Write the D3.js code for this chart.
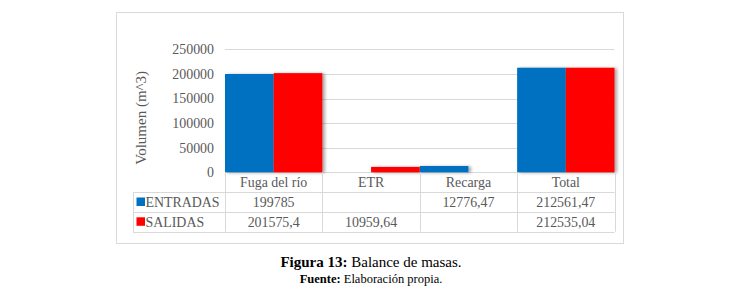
<!DOCTYPE html>
<html>
<head>
<meta charset="utf-8">
<script src="https://cdn.jsdelivr.net/npm/d3@7"></script>
<style>
	body { margin: 0; background: #fff; }
</style>
</head>
<body>
<div class="balance-chart"></div>
<script>
let categories = ['Fuga del río', 'ETR', 'Recarga', 'Total'];
let seriesNames = ['ENTRADAS', 'SALIDAS'];
let entradas = [199785, null, 12776.47, 212561.47];
let salidas = [201575.4, 10959.64, null, 212535.04];
let yTicks = [0, 50000, 100000, 150000, 200000, 250000];

let colors = ['#0070C0', '#FF0000'];
let width = 740;
let height = 295;
let plot = { left: 225, right: 614.5, top: 49.3, bottom: 172.3 };
let rowH = 19.8;
let tableLeft = 133;
let gridColor = '#d9d9d9';
let textColor = '#595959';
let serif = "'Liberation Serif', 'Times New Roman', serif";
let fontSize = '13.9px';

let seriesData = [entradas, salidas];

let svg = d3.select('.balance-chart').append('svg')
	.attr('width', width)
	.attr('height', height);

// sombra de las barras
let defs = svg.append('defs');
defs.append('filter')
	.attr('id', 'barShadow')
	.attr('x', '-10%').attr('y', '-10%')
	.attr('width', '130%').attr('height', '120%')
	.append('feDropShadow')
	.attr('dx', 2.5).attr('dy', 0.5)
	.attr('stdDeviation', 1.5)
	.attr('flood-color', '#000')
	.attr('flood-opacity', 0.35);

// marco
svg.append('rect')
	.attr('x', 116.5).attr('y', 12.5)
	.attr('width', 507).attr('height', 231)
	.attr('fill', '#fff')
	.attr('stroke', gridColor);

let xScale = d3.scaleBand().domain(categories).range([plot.left, plot.right]).padding(0);
let xInner = d3.scaleBand().domain(seriesNames).range([0, xScale.bandwidth()]).padding(0);
let yScale = d3.scaleLinear().domain([0, 250000]).range([plot.bottom, plot.top]);

// rejilla
svg.append('g')
	.attr('class', 'grid')
	.selectAll('line')
	.data(yTicks)
	.enter().append('line')
	.attr('x1', plot.left)
	.attr('x2', plot.right)
	.attr('y1', d => Math.round(yScale(d)) + 0.5)
	.attr('y2', d => Math.round(yScale(d)) + 0.5)
	.attr('stroke', gridColor);

// eje y
let yAxis = svg.append('g')
	.attr('transform', 'translate(214,0)')
	.call(d3.axisLeft(yScale).tickValues(yTicks).tickSize(0).tickPadding(0).tickFormat(d3.format('d')));
yAxis.select('.domain').remove();
yAxis.selectAll('text')
	.attr('font-size', null)
	.style('font-size', fontSize)
	.attr('fill', textColor);

svg.append('text')
	.attr('transform', 'translate(146,' + ((plot.top + plot.bottom) / 2 + 7) + ') rotate(-90)')
	.attr('text-anchor', 'middle')
	.style('font-size', '15px')
	.attr('fill', textColor)
	.text('Volumen (m^3)');

// barras
let bars = [];
seriesData.forEach((vals, si) => {
	vals.forEach((v, ci) => {
		if (v != null) bars.push({ cat: categories[ci], series: seriesNames[si], value: v, si: si });
	});
});

svg.append('g')
	.attr('filter', 'url(#barShadow)')
	.selectAll('rect')
	.data(bars)
	.enter().append('rect')
	.attr('x', d => xScale(d.cat) + xInner(d.series))
	.attr('y', d => yScale(d.value))
	.attr('width', xInner.bandwidth())
	.attr('height', d => plot.bottom - yScale(d.value))
	.attr('fill', d => colors[d.si]);

// tabla de datos
let table = svg.append('g').attr('class', 'data-table');
let tableBottom = plot.bottom + rowH * 3;

let vx = categories.map(c => xScale(c)).concat([plot.right]);
table.selectAll('.vline')
	.data(vx)
	.enter().append('line')
	.attr('x1', d => Math.round(d) + 0.5)
	.attr('x2', d => Math.round(d) + 0.5)
	.attr('y1', plot.bottom)
	.attr('y2', tableBottom)
	.attr('stroke', gridColor);
table.append('line')
	.attr('x1', tableLeft + 0.5).attr('x2', tableLeft + 0.5)
	.attr('y1', plot.bottom + rowH).attr('y2', tableBottom)
	.attr('stroke', gridColor);

table.selectAll('.hline')
	.data([1, 2, 3])
	.enter().append('line')
	.attr('x1', tableLeft)
	.attr('x2', plot.right)
	.attr('y1', d => Math.round(plot.bottom + rowH * d) + 0.5)
	.attr('y2', d => Math.round(plot.bottom + rowH * d) + 0.5)
	.attr('stroke', gridColor);

// cabecera
table.selectAll('.cat')
	.data(categories)
	.enter().append('text')
	.attr('x', d => xScale(d) + xScale.bandwidth() / 2)
	.attr('y', plot.bottom + rowH / 2)
	.attr('dy', '0.35em')
	.attr('text-anchor', 'middle')
	.style('font-size', fontSize)
	.attr('fill', textColor)
	.text(d => d);

let fmt = v => String(v).replace('.', ',');

seriesData.forEach((vals, si) => {
	let cy = plot.bottom + rowH * (si + 1.5);
	table.append('rect')
		.attr('x', 136.5)
		.attr('y', cy - 4.5)
		.attr('width', 8.5)
		.attr('height', 8.5)
		.attr('fill', colors[si]);
	table.append('text')
		.attr('x', 145.5)
		.attr('y', cy)
		.attr('dy', '0.35em')
		.style('font-size', fontSize)
		.attr('fill', textColor)
		.text(seriesNames[si]);
	table.selectAll('.val' + si)
		.data(vals.map((v, ci) => ({ v: v, cat: categories[ci] })).filter(d => d.v != null))
		.enter().append('text')
		.attr('x', d => xScale(d.cat) + xScale.bandwidth() / 2)
		.attr('y', cy)
		.attr('dy', '0.35em')
		.attr('text-anchor', 'middle')
		.style('font-size', fontSize)
		.attr('fill', textColor)
		.text(d => fmt(d.v));
});

// pie de figura
let cap = svg.append('text')
	.attr('x', 371)
	.attr('y', 267)
	.attr('text-anchor', 'middle')
	.style('font-size', '15px')
	.attr('fill', '#000');
cap.append('tspan').attr('font-weight', 'bold').text('Figura 13:');
cap.append('tspan').text(' Balance de masas.');

let src = svg.append('text')
	.attr('x', 371)
	.attr('y', 283)
	.attr('text-anchor', 'middle')
	.style('font-size', '12.5px')
	.attr('fill', '#000');
src.append('tspan').attr('font-weight', 'bold').text('Fuente:');
src.append('tspan').text(' Elaboración propia.');

svg.selectAll('text').style('font-family', serif);
yAxis.attr('font-family', null);
</script>
</body>
</html>
